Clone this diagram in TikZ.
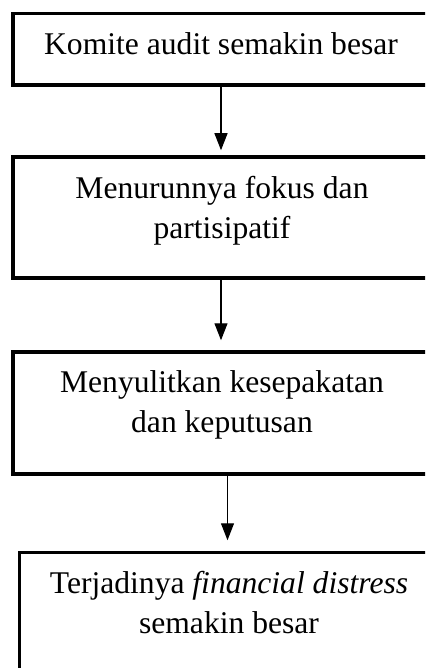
\documentclass[tikz,border=0pt]{standalone}
\usepackage{fontspec}
\setmainfont{Liberation Serif}
\usetikzlibrary{arrows.meta}
\begin{document}
\begin{tikzpicture}[x=0.5pt,y=-0.5pt,
  kotak/.style={draw,line width=1.75pt,minimum width=208pt,inner sep=0pt},
  teks/.style={anchor=base,align=center,inner sep=0pt,font=\fontsize{15.8}{20}\selectfont},
  panah/.style={-{Triangle[length=8.5pt,width=6.5pt]},line width=0.6pt}]
\clip (0,0) rectangle (425,668);
% kotak-kotak
\node [kotak,minimum height=35.75pt] (b1) at (221,49.25) {};
\node [kotak,minimum height=60.5pt] (b2) at (221,217.5) {};
\node [kotak,minimum height=61pt] (b3) at (221,413) {};
\node [kotak,minimum height=61pt] (b4) at (227.5,613.5) {};
% teks (base = baris terakhir)
\node [teks] (t1) at (221,55) {Komite audit semakin besar};
\node [teks] (t2) at (222,238) {Menurunnya fokus dan\\partisipatif};
\node [teks] (t3) at (222,432) {Menyulitkan kesepakatan\\dan keputusan};
\node [teks] (t4) at (229,633) {Terjadinya \textit{financial distress}\\semakin besar};
% panah
\draw [panah,shorten >=2.5pt] (b1.south) -- (b2.north);
\draw [panah,shorten >=5pt] (b2.south) -- (b3.north);
\draw [panah,shorten >=5.25pt] (b4.north |- b3.south) -- (b4.north);
\end{tikzpicture}
\end{document}
